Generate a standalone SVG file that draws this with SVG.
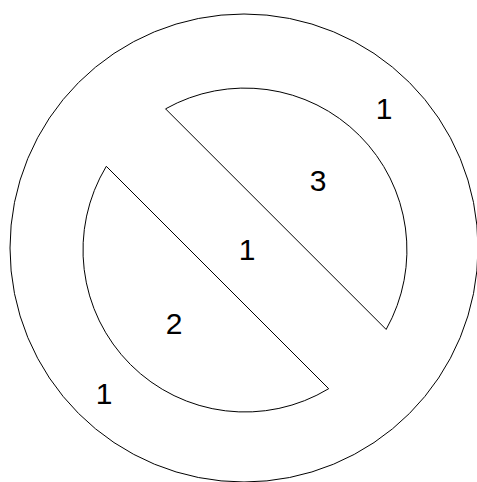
<svg xmlns="http://www.w3.org/2000/svg" width="477" height="482" viewBox="0 0 477 482">
<style>
.s{fill:#fff;stroke:#000;stroke-width:1}
.t{font-family:"Liberation Sans",Arial,sans-serif;font-size:30px;fill:#000;text-anchor:middle}
</style>
<rect width="477" height="482" fill="#fff"/>
<g id="outer">
<circle class="s" cx="244" cy="248" r="234"/>
</g>
<g id="upper">
<path class="s" d="M165.55,108.85 A162,162 0 0 1 386.15,329.45 Z"/>
</g>
<g id="lower">
<path class="s" d="M106.3,166.3 A162,162 0 0 0 328.7,388.7 Z"/>
</g>
<g id="labels">
<text class="t" x="384" y="119">1</text>
<text class="t" x="318" y="191">3</text>
<text class="t" x="247" y="260">1</text>
<text class="t" x="174" y="334">2</text>
<text class="t" x="104" y="404">1</text>
</g>
</svg>
